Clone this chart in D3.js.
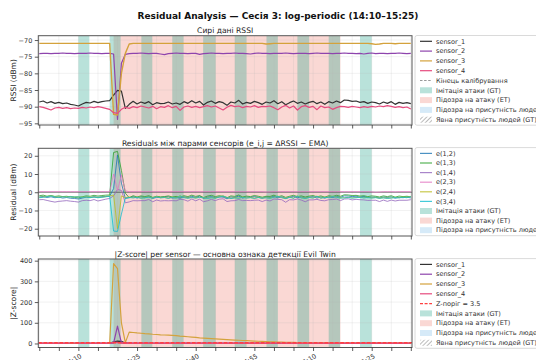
<!DOCTYPE html>
<html>
<head>
<meta charset="utf-8">
<script src="https://cdn.jsdelivr.net/npm/d3@7"></script>
<style>
  body { margin: 0; background: #fff; }
  svg { display: block; font-family: "DejaVu Sans", sans-serif; }
</style>
</head>
<body>
<svg id="chart" width="536" height="360"></svg>
<script>
// ---- time base: one sample per minute from 14:00 ----
const sessionStart = new Date(2024, 0, 1, 14, 0, 0);
const sampleMinutes = d3.range(0, 96);
const tickLabels = ["14:10", "14:25", "14:40", "14:55", "15:10", "15:25"];

// ---- raw RSSI (dBm) ----
const sensor1 = [
  -88.6,-88.3,-88.9,-88.5,-89.0,-88.7,-89.1,-88.9,-89.3,-89.5,
  -89.8,-89.2,-88.7,-88.9,-88.4,-88.8,-88.5,-88.3,-88.2,-86.5,
  -85.1,-85.3,-90.5,-89.3,-88.4,-89.2,-88.6,-89.0,-88.5,-89.4,
  -88.8,-89.1,-89.0,-88.6,-89.2,-88.9,-89.3,-88.5,-89.0,-88.2,
  -88.9,-88.4,-89.5,-88.7,-88.3,-89.0,-88.5,-88.8,-89.6,-88.6,
  -88.9,-88.1,-89.2,-88.7,-89.0,-88.4,-88.8,-89.3,-88.6,-88.9,
  -88.2,-89.1,-88.5,-89.4,-88.8,-88.3,-89.0,-88.6,-89.2,-88.7,
  -88.4,-89.1,-88.6,-89.3,-88.5,-88.9,-88.3,-88.8,-88.0,-88.1,
  -88.4,-88.3,-88.7,-88.5,-89.0,-88.6,-88.8,-89.2,-88.6,-89.0,
  -88.5,-89.3,-88.7,-89.0,-88.8,-89.1];
const sensor2 = [
  -74.1,-74.0,-74.0,-74.1,-74.0,-74.0,-73.9,-74.0,-74.0,-74.1,
  -74.0,-74.0,-74.0,-73.9,-74.0,-74.0,-74.1,-74.0,-74.0,-74.2,
  -93.8,-77.0,-74.3,-74.1,-74.0,-74.0,-73.9,-74.0,-74.1,-74.0,
  -74.0,-74.2,-74.4,-74.1,-74.0,-73.9,-74.0,-74.0,-74.1,-74.0,
  -74.0,-74.3,-74.1,-74.0,-73.9,-74.0,-74.0,-74.1,-74.0,-74.0,
  -73.9,-74.0,-74.0,-74.1,-74.2,-74.0,-73.9,-74.0,-74.0,-74.1,
  -74.0,-74.0,-74.0,-73.9,-74.0,-74.1,-74.0,-74.0,-74.0,-74.1,
  -74.0,-73.9,-74.0,-74.0,-74.0,-74.1,-74.0,-74.0,-73.9,-74.0,
  -74.0,-74.1,-74.0,-74.2,-74.0,-73.9,-74.1,-74.0,-74.0,-74.1,
  -74.0,-74.0,-73.9,-74.0,-74.1,-74.0];
const sensor3 = [
  -71.0,-71.0,-71.0,-71.0,-71.0,-71.0,-71.0,-71.0,-71.0,-71.0,
  -71.0,-71.0,-71.0,-71.0,-71.0,-71.0,-71.0,-71.0,-71.0,-92.3,
  -92.5,-80.0,-74.0,-71.2,-71.0,-71.0,-71.0,-71.0,-71.0,-71.0,
  -71.0,-71.0,-71.0,-71.0,-71.0,-71.0,-71.0,-71.0,-71.0,-71.0,
  -71.0,-71.0,-71.0,-71.0,-71.0,-71.0,-71.0,-71.0,-71.0,-71.0,
  -71.0,-71.0,-71.0,-71.0,-71.0,-71.0,-71.0,-71.0,-71.2,-71.1,
  -71.0,-71.0,-71.0,-71.0,-71.0,-71.0,-71.0,-71.0,-71.0,-71.0,
  -71.0,-71.0,-71.0,-71.0,-71.0,-71.0,-71.0,-71.0,-71.0,-71.0,
  -71.0,-71.0,-71.0,-71.0,-71.0,-71.1,-71.3,-71.2,-71.0,-71.0,
  -71.0,-71.1,-71.0,-71.0,-71.0,-71.0];
const sensor4 = [
  -90.0,-90.2,-90.6,-91.0,-90.4,-90.2,-90.5,-90.3,-90.6,-90.4,
  -90.5,-90.2,-90.4,-90.1,-90.3,-90.0,-90.2,-90.5,-90.8,-91.8,
  -92.0,-90.8,-90.2,-90.5,-90.0,-90.3,-89.8,-90.1,-90.4,-89.9,
  -90.6,-90.0,-90.2,-89.7,-90.3,-89.9,-91.1,-90.1,-89.8,-90.2,
  -89.9,-90.3,-90.0,-89.7,-90.1,-89.8,-90.4,-91.0,-90.2,-89.6,
  -90.0,-89.8,-90.3,-89.9,-90.1,-89.7,-90.2,-89.9,-90.0,-89.8,
  -90.3,-90.9,-90.1,-89.6,-90.4,-89.8,-91.0,-90.0,-89.7,-90.2,
  -89.9,-90.9,-89.8,-90.3,-90.1,-90.8,-90.3,-89.9,-90.0,-90.2,
  -89.9,-90.1,-90.3,-90.0,-90.2,-89.9,-90.1,-89.8,-90.0,-89.7,
  -89.9,-90.2,-90.0,-90.3,-90.1,-90.7];

// ---- pairwise residuals (dBm) ----
const e12 = [
  -2.6,-2.3,-2.9,-2.5,-3.0,-2.7,-3.2,-2.9,-3.3,-3.4,
  -3.7,-3.2,-2.7,-3.0,-2.4,-2.8,-2.4,-2.3,-2.2,2.0,
  20.5,5.0,-3.4,-3.0,-2.4,-3.2,-2.5,-3.0,-2.4,-3.4,
  -2.8,-2.9,-2.6,-2.5,-3.2,-2.9,-3.3,-2.5,-3.0,-2.2,
  -2.9,-2.1,-3.4,-2.7,-2.4,-3.0,-2.5,-2.7,-3.6,-2.6,
  -2.9,-2.1,-3.2,-2.6,-2.8,-2.4,-2.8,-3.3,-2.6,-2.9,
  -2.2,-3.1,-2.5,-3.4,-2.8,-2.3,-3.0,-2.6,-3.2,-2.7,
  -2.4,-3.2,-2.6,-3.3,-2.5,-2.9,-2.3,-2.8,-2.0,-2.1,
  -2.4,-2.2,-2.7,-2.3,-3.0,-2.7,-2.7,-3.2,-2.6,-2.9,
  -2.5,-3.3,-2.8,-3.0,-2.7,-3.1];
const e13 = [
  -1.9,-1.6,-2.2,-1.8,-2.3,-2.0,-2.4,-2.2,-2.6,-2.8,
  -3.1,-2.5,-2.0,-2.2,-1.7,-2.1,-1.8,-1.6,-1.5,21.8,
  22.4,12.0,-0.5,-3.0,-1.9,-2.6,-2.0,-2.4,-1.9,-2.8,
  -2.2,-2.5,-2.4,-2.0,-2.6,-2.3,-2.7,-1.9,-2.4,-1.6,
  -2.3,-1.8,-2.9,-2.1,-1.7,-2.4,-1.9,-2.2,-3.0,-2.0,
  -2.3,-1.5,-2.6,-2.1,-2.4,-1.8,-2.2,-2.7,-2.2,-2.3,
  -1.6,-2.5,-1.9,-2.8,-2.2,-1.7,-2.4,-2.0,-2.6,-2.1,
  -1.8,-2.5,-2.0,-2.7,-1.9,-2.3,-1.7,-2.2,-1.4,-1.5,
  -1.8,-1.7,-2.1,-1.9,-2.4,-2.0,-2.2,-2.6,-2.0,-2.4,
  -1.9,-2.7,-2.1,-2.4,-2.2,-2.5];
const e14 = [
  -4.1,-4.0,-4.5,-5.0,-5.4,-5.0,-4.8,-4.6,-4.9,-5.1,
  -5.4,-4.6,-4.4,-4.6,-4.0,-4.8,-4.3,-3.8,-3.4,-2.0,
  1.5,1.0,-5.8,-5.3,-4.6,-4.7,-4.6,-4.6,-4.0,-5.2,
  -4.3,-4.8,-4.6,-4.7,-4.6,-4.7,-3.9,-4.1,-4.9,-3.7,
  -4.7,-3.8,-5.2,-4.7,-3.9,-4.6,-3.8,-3.6,-5.1,-4.7,
  -4.6,-4.0,-4.6,-4.5,-4.6,-4.4,-4.3,-5.1,-4.3,-4.8,
  -3.7,-3.9,-4.1,-5.5,-4.1,-4.2,-3.7,-4.3,-5.2,-4.2,
  -4.2,-3.9,-4.5,-4.7,-4.1,-4.0,-3.7,-4.6,-3.7,-3.6,
  -4.2,-3.9,-4.1,-4.2,-4.5,-4.4,-4.4,-5.1,-4.3,-5.0,
  -4.3,-4.8,-4.4,-4.4,-4.4,-4.1];
const e23 = [
  0.3,0.3,0.3,0.3,0.3,0.3,0.3,0.3,0.3,0.3,
  0.3,0.3,0.3,0.3,0.3,0.3,0.3,0.3,0.3,10.0,
  1.0,9.5,0.8,0.3,0.3,0.3,0.3,0.3,0.3,0.3,
  0.3,0.3,0.3,0.3,0.3,0.3,0.3,0.3,0.3,0.3,
  0.3,0.3,0.3,0.3,0.3,0.3,0.3,0.3,0.3,0.3,
  0.3,0.3,0.3,0.3,0.3,0.3,0.3,0.3,0.1,0.2,
  0.3,0.3,0.3,0.3,0.3,0.3,0.3,0.3,0.3,0.3,
  0.3,0.3,0.3,0.3,0.3,0.3,0.3,0.3,0.3,0.3,
  0.3,0.3,0.3,0.3,0.3,0.2,0.0,0.1,0.3,0.3,
  0.3,0.2,0.3,0.3,0.3,0.3];
const e24 = [
  -2.8,-2.6,-2.3,-1.9,-2.5,-2.7,-2.4,-2.6,-2.3,-2.5,
  -2.4,-2.7,-2.5,-2.8,-2.6,-2.9,-2.7,-2.4,-2.1,-1.5,
  -20.0,-2.0,-3.0,-2.6,-3.0,-2.7,-3.2,-2.9,-2.6,-3.1,
  -2.4,-3.0,-2.8,-3.3,-2.7,-3.1,-1.9,-2.9,-3.2,-2.8,
  -3.1,-2.7,-3.0,-3.3,-2.9,-3.2,-2.6,-2.0,-2.8,-3.4,
  -3.0,-3.2,-2.7,-3.1,-2.9,-3.3,-2.8,-3.1,-3.0,-3.2,
  -2.7,-2.1,-2.9,-3.4,-2.6,-3.2,-2.0,-3.0,-3.3,-2.8,
  -3.1,-2.1,-3.2,-2.7,-2.9,-2.2,-2.7,-3.1,-3.0,-2.8,
  -3.1,-2.9,-2.7,-3.0,-2.8,-3.1,-2.9,-3.2,-3.0,-3.3,
  -3.1,-2.8,-3.0,-2.7,-2.9,-2.3];
const e34 = [
  -3.0,-2.8,-2.4,-2.0,-2.6,-2.8,-2.5,-2.7,-2.4,-2.6,
  -2.5,-2.8,-2.6,-2.9,-2.7,-3.0,-2.8,-2.5,-2.2,-21.3,
  -21.5,-12.0,-3.2,-2.9,-3.1,-2.8,-3.3,-3.0,-2.7,-3.2,
  -2.5,-3.1,-2.9,-3.4,-2.8,-3.2,-2.0,-3.0,-3.3,-2.9,
  -3.2,-2.8,-3.1,-3.4,-3.0,-3.3,-2.7,-2.1,-2.9,-3.5,
  -3.1,-3.3,-2.8,-3.2,-3.0,-3.4,-2.9,-3.2,-3.1,-3.3,
  -2.8,-2.2,-3.0,-3.5,-2.7,-3.3,-2.1,-3.1,-3.4,-2.9,
  -3.2,-2.2,-3.3,-2.8,-3.0,-2.3,-2.8,-3.2,-3.1,-2.9,
  -3.2,-3.0,-2.8,-3.1,-2.9,-3.2,-3.0,-3.3,-3.1,-3.4,
  -3.2,-2.9,-3.1,-2.8,-3.0,-2.4];

// ---- |Z-score| per sensor ----
const z1 = [
  0.5,0.8,0.3,0.6,0.2,0.5,0.1,0.3,0.7,0.9,
  1.2,0.4,0.3,0.2,0.6,0.1,0.5,0.7,0.8,8.0,
  11.0,10.0,2.5,0.6,0.5,0.4,0.2,0.3,0.6,0.5,
  0.4,0.7,0.3,0.5,0.6,0.2,0.8,0.4,0.3,0.6,
  0.5,0.3,0.7,0.4,0.5,0.2,0.6,0.4,0.8,0.3,
  0.5,0.6,0.3,0.4,0.2,0.7,0.5,0.3,0.6,0.4,
  0.5,0.3,0.6,0.8,0.4,0.5,0.2,0.6,0.4,0.3,
  0.5,0.7,0.4,0.6,0.3,0.5,0.4,0.6,0.8,0.7,
  0.5,0.4,0.3,0.5,0.6,0.4,0.5,0.7,0.3,0.5,
  0.4,0.6,0.5,0.3,0.4,0.5];
const z2 = [
  0.3,0.2,0.3,0.4,0.2,0.3,0.5,0.3,0.2,0.4,
  0.3,0.2,0.3,0.5,0.3,0.2,0.4,0.3,0.3,2.0,
  84.0,3.0,0.8,0.4,0.3,0.2,0.5,0.3,0.4,0.3,
  0.2,0.6,0.9,0.4,0.3,0.5,0.3,0.2,0.4,0.3,
  0.3,0.7,0.4,0.3,0.5,0.3,0.2,0.4,0.3,0.3,
  0.5,0.3,0.2,0.4,0.6,0.3,0.5,0.3,0.2,0.4,
  0.3,0.2,0.3,0.5,0.3,0.4,0.3,0.2,0.3,0.4,
  0.3,0.5,0.3,0.2,0.3,0.4,0.3,0.2,0.5,0.3,
  0.2,0.4,0.3,0.6,0.3,0.5,0.4,0.3,0.2,0.4,
  0.3,0.2,0.5,0.3,0.4,0.3];
const z3 = [
  0.2,0.2,0.2,0.2,0.2,0.2,0.2,0.2,0.2,0.2,
  0.2,0.2,0.2,0.2,0.2,0.2,0.2,0.2,0.3,386.0,
  362.0,100.0,4.0,55.0,53.0,51.0,49.5,47.5,46.0,44.5,
  43.5,42.0,41.0,40.0,39.0,37.5,35.5,34.0,32.5,31.0,
  29.5,27.5,26.0,24.8,23.5,22.2,21.0,19.8,18.7,17.6,
  16.5,15.5,14.5,13.5,12.6,11.7,10.8,9.9,9.1,8.3,
  7.6,7.0,6.4,5.9,5.4,5.0,4.6,4.3,4.0,3.7,
  3.5,3.3,3.1,2.9,2.8,2.7,2.6,2.5,2.4,2.4,
  2.3,2.3,2.2,2.2,2.1,2.1,2.1,2.0,2.0,2.0,
  1.9,1.9,1.9,1.9,1.8,1.8];
const z4 = [
  1.2,1.6,1.0,1.8,1.4,1.1,1.7,1.3,1.5,1.9,
  1.4,1.2,1.6,1.1,1.5,1.3,1.8,1.2,1.6,4.5,
  5.0,2.0,1.4,1.7,1.2,1.5,1.1,1.6,1.3,1.8,
  1.2,1.5,1.4,1.1,1.6,1.3,1.9,1.2,1.5,1.4,
  1.1,1.6,1.3,1.5,1.2,1.7,1.4,1.9,1.3,1.1,
  1.5,1.2,1.6,1.4,1.3,1.5,1.2,1.7,1.4,1.3,
  1.6,1.8,1.2,1.5,1.3,1.4,1.9,1.2,1.5,1.3,
  1.4,1.8,1.2,1.6,1.3,1.7,1.4,1.2,1.5,1.3,
  1.6,1.2,1.4,1.3,1.5,1.2,1.4,1.6,1.3,1.5,
  1.2,1.4,1.3,1.6,1.4,1.7];
const zThreshold = 3.5;

// ---- labelled intervals (minutes after 14:00) ----
const attackStart = [10.0, 18.0, 26.1, 34.0, 41.9, 50.0, 58.1, 66.0, 74.0, 82.0];
const attackEnd   = [12.8, 20.8, 28.9, 36.9, 45.1, 53.0, 61.0, 69.0, 76.9, 85.0];
const suspectStart = [19.0];
const suspectEnd   = [77.0];

// ---- styling ----
const C = {
  s1: "#333333", s2: "#8e44ad", s3: "#d4a23c", s4: "#e64a7e",
  e12: "#1f77b4", e13: "#2ca02c", e14: "#9467bd", e23: "#e377c2", e24: "#bcbd22", e34: "#17becf",
  gt: "#16a085", et: "#e74c3c", human: "#3498db", thr: "#ff4040"
};

const svg = d3.select("#chart");
const toDate = m => new Date(sessionStart.getTime() + m * 60000);
const plotL = 38.3, plotR = 412;
const x = d3.scaleTime().domain([toDate(-0.25), toDate(95.3)]).range([plotL, plotR]);

const defs = svg.append("defs");
const hatch = defs.append("pattern").attr("id", "hatch").attr("patternUnits", "userSpaceOnUse")
  .attr("width", 3).attr("height", 3).attr("patternTransform", "rotate(45)");
hatch.append("line").attr("x1", 0).attr("y1", 0).attr("x2", 0).attr("y2", 3)
  .attr("stroke", "#555").attr("stroke-width", 0.8);

svg.append("text").attr("x", 278).attr("y", 18.5).attr("text-anchor", "middle")
  .attr("font-size", 9).attr("font-weight", "bold").attr("fill", "#111")
  .text("Residual Analysis — Сесія 3: log-periodic (14:10–15:25)");

const fmtNum = d => (d < 0 ? "\u2212" + Math.abs(d) : String(d));
const hhmm = d3.timeFormat("%H:%M");

function panel(opts, idx) {
  const { top, bottom, yDomain, yTicks, title, ylabel, series, extra, legend, showX } = opts;
  const y = d3.scaleLinear().domain(yDomain).range([bottom, top]);
  const g = svg.append("g");
  const clipId = "clip" + idx;
  defs.append("clipPath").attr("id", clipId).append("rect")
    .attr("x", plotL).attr("y", top).attr("width", plotR - plotL).attr("height", bottom - top);
  const inner = g.append("g").attr("clip-path", `url(#${clipId})`);

  // suspected-attack spans, then ground-truth attack spans
  inner.selectAll("rect.et").data(suspectStart.map((s, i) => [s, suspectEnd[i]])).join("rect")
    .attr("x", d => x(toDate(d[0]))).attr("width", d => x(toDate(d[1])) - x(toDate(d[0])))
    .attr("y", top).attr("height", bottom - top).attr("fill", C.et).attr("fill-opacity", 0.22);
  inner.selectAll("rect.gt").data(attackStart.map((s, i) => [s, attackEnd[i]])).join("rect")
    .attr("x", d => x(toDate(d[0]))).attr("width", d => x(toDate(d[1])) - x(toDate(d[0])))
    .attr("y", top).attr("height", bottom - top).attr("fill", C.gt).attr("fill-opacity", 0.3);

  // grid
  const xTicks = x.ticks(d3.timeMinute.every(5));
  inner.selectAll("line.gx").data(xTicks).join("line")
    .attr("x1", d => x(d)).attr("x2", d => x(d)).attr("y1", top).attr("y2", bottom)
    .attr("stroke", "#b0b0b0").attr("stroke-opacity", 0.3).attr("stroke-width", 0.6);
  inner.selectAll("line.gy").data(yTicks).join("line")
    .attr("x1", plotL).attr("x2", plotR).attr("y1", d => y(d)).attr("y2", d => y(d))
    .attr("stroke", "#b0b0b0").attr("stroke-opacity", 0.3).attr("stroke-width", 0.6);

  if (extra) extra(inner, y);

  const line = d3.line().x((d, i) => x(toDate(sampleMinutes[i]))).y(d => y(d));
  series.forEach(s => {
    inner.append("path").attr("d", line(s.values)).attr("fill", "none")
      .attr("stroke", s.color).attr("stroke-width", s.width || 1.2)
      .attr("stroke-opacity", s.opacity || 1).attr("stroke-linejoin", "round");
  });
  if (opts.after) opts.after(inner, y);

  // frame
  g.append("rect").attr("x", plotL).attr("y", top).attr("width", plotR - plotL).attr("height", bottom - top)
    .attr("fill", "none").attr("stroke", "#555").attr("stroke-width", 1);

  // y axis
  const ya = g.append("g").attr("transform", `translate(${plotL},0)`)
    .call(d3.axisLeft(y).tickValues(yTicks).tickSize(3.5).tickPadding(2.5).tickFormat(fmtNum));
  ya.select(".domain").remove();
  ya.selectAll("line").attr("stroke", "#333").attr("stroke-width", 0.8);
  ya.selectAll("text").attr("font-size", 6.5).attr("fill", "#333").attr("font-family", "DejaVu Sans");

  // x axis
  const xa = g.append("g").attr("transform", `translate(0,${bottom})`)
    .call(d3.axisBottom(x).ticks(d3.timeMinute.every(5)).tickSize(3.5).tickFormat(() => ""));
  xa.select(".domain").remove();
  xa.selectAll("line").attr("stroke", "#333").attr("stroke-width", 0.8);
  if (showX) {
    const labelled = xTicks.filter(d => tickLabels.includes(hhmm(d)));
    g.selectAll("text.xl").data(labelled).join("text")
      .attr("transform", d => `translate(${x(d) + 1.5},${bottom + 6}) rotate(-30)`)
      .attr("text-anchor", "end").attr("dy", "0.7em")
      .attr("font-size", 6.5).attr("fill", "#333").text(d => hhmm(d));
  }

  // titles
  g.append("text").attr("x", (plotL + plotR) / 2).attr("y", top - 2.4).attr("text-anchor", "middle")
    .attr("font-size", 7.6).attr("fill", "#222").text(title);
  g.append("text").attr("transform", `translate(16,${(top + bottom) / 2}) rotate(-90)`)
    .attr("text-anchor", "middle").attr("font-size", 7.5).attr("fill", "#222").text(ylabel);

  // legend
  const lg = svg.append("g");
  const lx = 415, ltop = legend.top, step = legend.step;
  const n = legend.items.length;
  lg.append("rect").attr("x", lx).attr("y", ltop).attr("width", 140)
    .attr("height", 5.8 + (n - 1) * step + 5.5).attr("rx", 2)
    .attr("fill", "#fff").attr("fill-opacity", 0.85).attr("stroke", "#d0d0d0").attr("stroke-width", 0.8);
  legend.items.forEach((it, i) => {
    const cy = ltop + 5.8 + i * step;
    if (it.type === "line") {
      lg.append("line").attr("x1", 420).attr("x2", 432).attr("y1", cy).attr("y2", cy)
        .attr("stroke", it.color).attr("stroke-width", it.width || 1.2)
        .attr("stroke-opacity", it.opacity || 1).attr("stroke-dasharray", it.dash || null);
    } else if (it.type === "patch") {
      lg.append("rect").attr("x", 420).attr("y", cy - 3).attr("width", 12).attr("height", 6)
        .attr("fill", it.color).attr("fill-opacity", it.opacity);
    } else {
      lg.append("rect").attr("x", 420).attr("y", cy - 3).attr("width", 12).attr("height", 6)
        .attr("fill", "url(#hatch)");
    }
    lg.append("text").attr("x", 436).attr("y", cy).attr("dy", "0.35em")
      .attr("font-size", 6.55).attr("fill", "#333").text(it.label);
  });
}

const gtItem = { type: "patch", color: C.gt, opacity: 0.3, label: "Імітація атаки (GT)" };
const etItem = { type: "patch", color: C.et, opacity: 0.22, label: "Підозра на атаку (ET)" };
const humanItem = { type: "patch", color: C.human, opacity: 0.2, label: "Підозра на присутність людей (ET)" };
const hatchItem = { type: "hatch", label: "Явна присутність людей (GT)" };

panel({
  top: 35.7, bottom: 125, yDomain: [-95.5, -68.7], yTicks: [-95, -90, -85, -80, -75, -70],
  title: "Сирі дані RSSI", ylabel: "RSSI (dBm)",
  series: [
    { values: sensor1, color: C.s1 }, { values: sensor2, color: C.s2 },
    { values: sensor3, color: C.s3, width: 1.4 }, { values: sensor4, color: C.s4 }
  ],
  legend: { top: 35.5, step: 9.8, items: [
    { type: "line", color: C.s1, label: "sensor_1" }, { type: "line", color: C.s2, label: "sensor_2" },
    { type: "line", color: C.s3, label: "sensor_3" }, { type: "line", color: C.s4, label: "sensor_4" },
    { type: "line", color: "#999", dash: "2.5,1.6", width: 1, label: "Кінець калібрування" },
    gtItem, etItem, humanItem, hatchItem ] }
}, 0);

panel({
  top: 148.3, bottom: 236, yDomain: [-24.0, 24.1], yTicks: [-20, -10, 0, 10, 20],
  title: "Residuals між парами сенсорів (e_i,j = ΔRSSI − EMA)", ylabel: "Residual (dBm)",
  extra: (inner, y) => {
    inner.append("line").attr("x1", plotL).attr("x2", plotR).attr("y1", y(0)).attr("y2", y(0))
      .attr("stroke", "#333").attr("stroke-width", 0.9).attr("stroke-opacity", 0.7);
  },
  series: [
    { values: e12, color: C.e12, width: 1, opacity: 0.8 }, { values: e13, color: C.e13, width: 1, opacity: 0.8 },
    { values: e14, color: C.e14, width: 1, opacity: 0.8 }, { values: e23, color: C.e23, width: 1, opacity: 0.8 },
    { values: e24, color: C.e24, width: 1, opacity: 0.8 }, { values: e34, color: C.e34, width: 1, opacity: 0.8 }
  ],
  legend: { top: 147.6, step: 9.6, items: [
    { type: "line", color: C.e12, opacity: 0.8, label: "e(1,2)" }, { type: "line", color: C.e13, opacity: 0.8, label: "e(1,3)" },
    { type: "line", color: C.e14, opacity: 0.8, label: "e(1,4)" }, { type: "line", color: C.e23, opacity: 0.8, label: "e(2,3)" },
    { type: "line", color: C.e24, opacity: 0.8, label: "e(2,4)" }, { type: "line", color: C.e34, opacity: 0.8, label: "e(3,4)" },
    gtItem, etItem, humanItem ] }
}, 1);

panel({
  top: 259, bottom: 347.5, yDomain: [-19.4, 408], yTicks: [0, 100, 200, 300, 400],
  title: "|Z-score| per sensor — основна ознака детекції Evil Twin", ylabel: "|Z-score|",
  series: [
    { values: z1, color: C.s1 }, { values: z2, color: C.s2 },
    { values: z3, color: C.s3 }, { values: z4, color: C.s4, width: 1.4 }
  ],
  after: (inner, y) => {
    inner.append("line").attr("x1", plotL).attr("x2", plotR).attr("y1", y(zThreshold)).attr("y2", y(zThreshold))
      .attr("stroke", C.thr).attr("stroke-width", 1.3).attr("stroke-dasharray", "3.5,1.8");
  },
  legend: { top: 258.6, step: 9.8, items: [
    { type: "line", color: C.s1, label: "sensor_1" }, { type: "line", color: C.s2, label: "sensor_2" },
    { type: "line", color: C.s3, label: "sensor_3" }, { type: "line", color: C.s4, label: "sensor_4" },
    { type: "line", color: C.thr, dash: "3,1.6", width: 1.2, label: "Z-поріг = 3.5" },
    gtItem, etItem, humanItem, hatchItem ] },
  showX: true
}, 2);
</script>
</body>
</html>
